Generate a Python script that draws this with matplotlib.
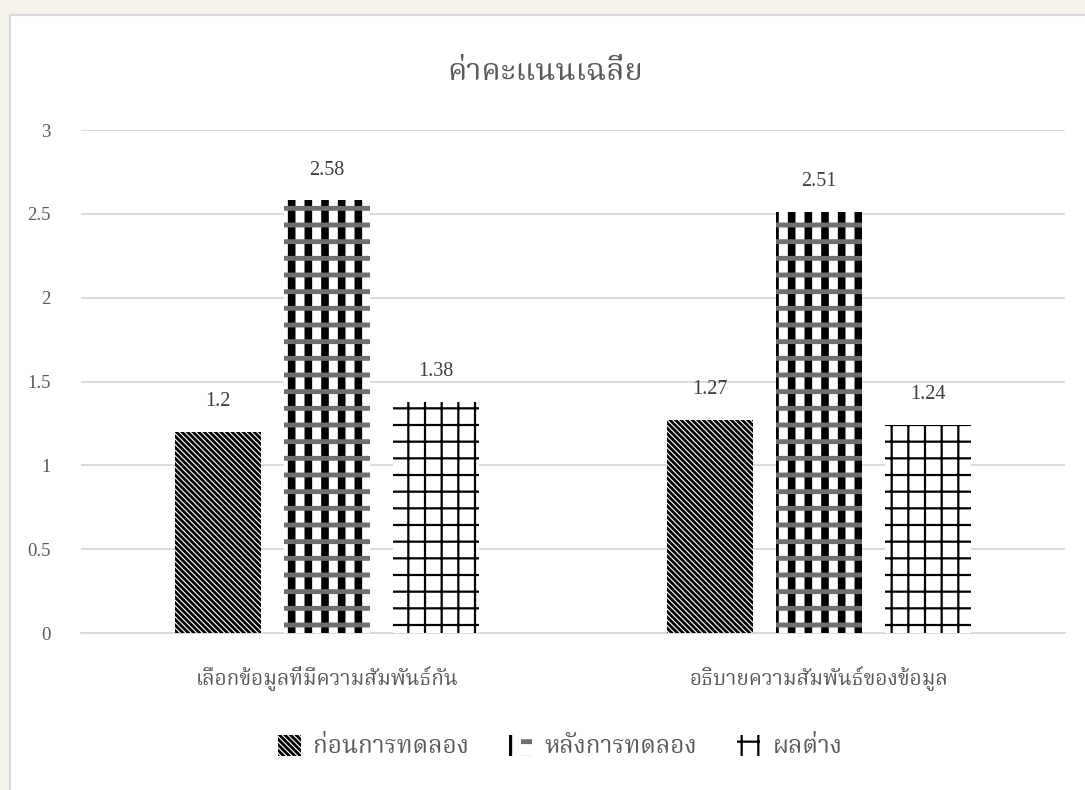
import matplotlib
matplotlib.use("Agg")
import matplotlib.pyplot as plt
from matplotlib import font_manager
from matplotlib.ft2font import FT2Font
from matplotlib.patches import Rectangle
from matplotlib.legend_handler import HandlerTuple
import numpy as np

# ---- data ----
categories = ["เลือกข้อมูลที่มีความสัมพันธ์กัน", "อธิบายความสัมพันธ์ของข้อมูล"]
series_names = ["ก่อนการทดลอง", "หลังการทดลอง", "ผลต่าง"]
before = [1.2, 1.27]
after = [2.58, 2.51]
diff = [1.38, 1.24]
yticks = [0, 0.5, 1, 1.5, 2, 2.5, 3]
ytick_labels = ["0", "0.5", "1", "1.5", "2", "2.5", "3"]
title = "ค่าคะแนนเฉลี่ย"

# ---- find a font with Thai glyphs ----
thai_family = None
prefs = []
for f in font_manager.fontManager.ttflist:
    try:
        cmap = FT2Font(f.fname).get_charmap()
    except Exception:
        continue
    if 0x0E01 in cmap and 0x0E48 in cmap:
        prefs.append(f.name)
for pref in ["Noto Serif Thai", "Noto Sans Thai", "Noto Sans Thai Looped", "Loma", "Garuda", "Tlwg Typo", "Norasi"]:
    if pref in prefs:
        thai_family = pref
        break
if thai_family is None and prefs:
    thai_family = prefs[0]
thai_fam = ([thai_family] if thai_family else []) + ["DejaVu Sans"]
num_fam = ["Liberation Serif", "DejaVu Serif"]

plt.rcParams["font.family"] = thai_fam

W, H = 1085, 790
fig = plt.figure(figsize=(W / 100, H / 100), dpi=100)
fig.patch.set_facecolor("#f4f2ea")
# chart area
bg = Rectangle((10 / W, -0.1), 1.2, 1.1 - 15 / H, transform=fig.transFigure,
               facecolor="white", edgecolor="#d9d9d9", linewidth=1.5, zorder=-10)
fig.add_artist(bg)

ax = fig.add_axes([81 / W, 1 - 633 / H, 984 / W, (633 - 130) / H])
ax.set_facecolor("none")
ax.set_zorder(5)

x = np.arange(len(categories))
bw = 0.175
pitch = 0.222
grey_txt = "#595959"

HATCH_LW = {"\\\\\\\\\\\\": 2.0, "|": 5.5, "-": 3.5, "+": 1.6}

b1 = ax.bar(x - pitch, before, bw, facecolor="white", edgecolor="black", linewidth=0,
            hatch="\\\\\\\\\\\\", zorder=3)
b2 = ax.bar(x, after, bw, facecolor="white", edgecolor="black", linewidth=0,
            hatch="|", zorder=3)
b2b = ax.bar(x, after, bw, facecolor="none", edgecolor="#6f6f6f", linewidth=0,
             hatch="-", zorder=4)
b3 = ax.bar(x + pitch, diff, bw, facecolor="white", edgecolor="black", linewidth=0,
            hatch="+", zorder=3)

def set_hlw(patches):
    for p in patches:
        h = p.get_hatch()
        if h in HATCH_LW:
            if hasattr(p, "set_hatch_linewidth"):
                p.set_hatch_linewidth(HATCH_LW[h])
            else:
                plt.rcParams["hatch.linewidth"] = HATCH_LW[h]

for bars in (b1, b2, b2b, b3):
    set_hlw(bars)

for bars, vals in [(b1, before), (b2, after), (b3, diff)]:
    for p, v in zip(bars, vals):
        ax.annotate(f"{v:g}", (p.get_x() + p.get_width() / 2, v), xytext=(0, 15),
                    textcoords="offset points", ha="center", va="bottom",
                    fontsize=14.5, color="#404040", family=num_fam)

ax.set_xlim(-0.5, 1.5)
ax.set_ylim(0, 3)
ax.set_yticks(yticks)
ax.set_yticklabels(ytick_labels, family=num_fam, fontsize=13.5, color=grey_txt)
ax.set_xticks(x)
ax.set_xticklabels(categories, fontsize=15, color=grey_txt)
ax.tick_params(axis="both", length=0)
ax.tick_params(axis="y", pad=22)
ax.tick_params(axis="x", pad=24)
ax.grid(axis="y", color="#d9d9d9", linewidth=1.3, zorder=0)
ax.set_axisbelow(True)
for s in ["left", "right", "top"]:
    ax.spines[s].set_visible(False)
ax.spines["bottom"].set_color("#d9d9d9")
ax.spines["bottom"].set_linewidth(1.3)

fig.text(545 / W, 1 - 71 / H, title, ha="center", va="center", fontsize=22, color=grey_txt)

leg = fig.legend([b1[0], (b2[0], b2b[0]), b3[0]], series_names,
                 handler_map={tuple: HandlerTuple(ndivide=None, pad=0)},
                 loc="center", bbox_to_anchor=(560 / W, 1 - 747 / H), ncol=3, frameon=False,
                 fontsize=17.5, handlelength=0.95, handleheight=0.95, handletextpad=0.5,
                 columnspacing=1.65, labelcolor=grey_txt)
set_hlw([p for p in leg.findobj(Rectangle) if p.get_hatch()])

fig.savefig("out.png", dpi=100, facecolor=fig.get_facecolor())
